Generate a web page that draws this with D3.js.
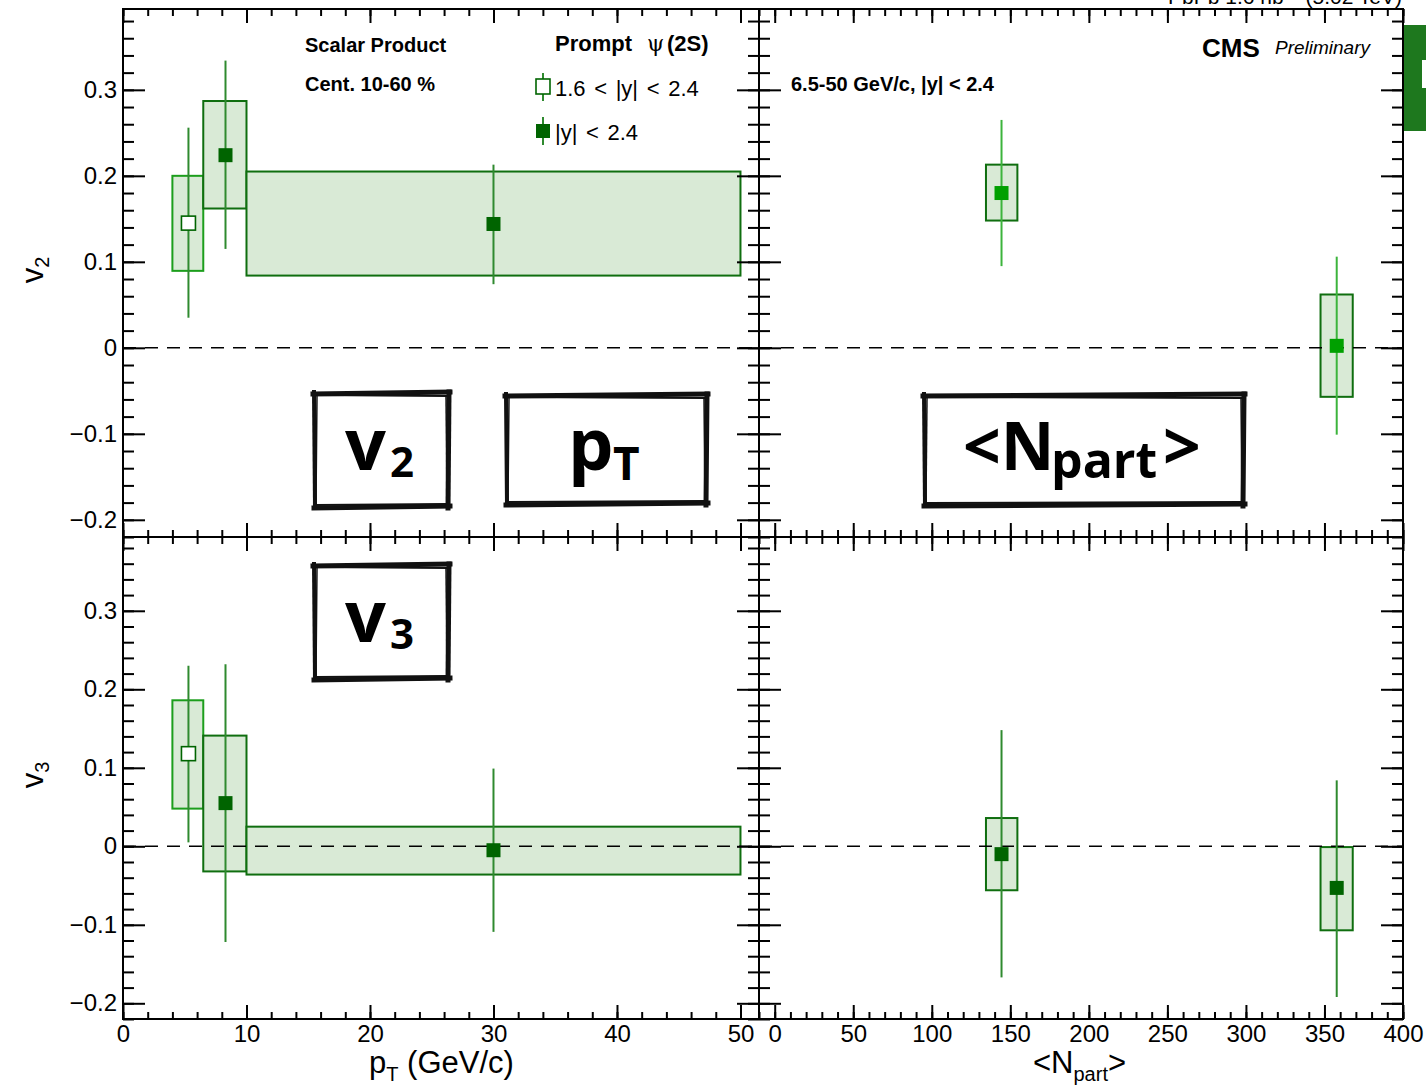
<!DOCTYPE html>
<html><head><meta charset="utf-8">
<script src="https://cdn.jsdelivr.net/npm/d3@7"></script>
<style>
body{margin:0;background:#fff}
svg{display:block}
text{font-family:"Liberation Sans",Arial,Helvetica,sans-serif}
.hand{font-family:"Open Sans","Noto Sans",sans-serif;font-weight:700}
</style>
</head><body>
<svg id="c" width="1426" height="1087"></svg>
<script>
// ---------------- DATA ----------------
// pT dependence (Cent. 10-60 %). First point: 1.6<|y|<2.4 (open), others |y|<2.4 (filled)
const ptCenters   = [5.3, 8.3, 30.0];
const ptBinLo     = [4.0, 6.5, 10.0];
const ptBinHi     = [6.5, 10.0, 50.0];
const ptOpen      = [true, false, false];
const v2Pt        = [0.145, 0.224, 0.144];
const v2PtStatLo  = [0.035, 0.115, 0.074];
const v2PtStatHi  = [0.256, 0.334, 0.213];
const v2PtSysLo   = [0.0895, 0.162, 0.084];
const v2PtSysHi   = [0.200, 0.287, 0.205];
const v3Pt        = [0.118, 0.055, -0.005];
const v3PtStatLo  = [0.005, -0.122, -0.109];
const v3PtStatHi  = [0.230, 0.232, 0.099];
const v3PtSysLo   = [0.048, -0.032, -0.036];
const v3PtSysHi   = [0.186, 0.141, 0.025];

// <Npart> dependence (6.5-50 GeV/c, |y|<2.4)
const npartCenters   = [144.4, 357.8];
const npartBoxLo     = [134.5, 347.5];
const npartBoxHi     = [154.5, 368.0];
const v2Npart        = [0.180, 0.0023];
const v2NpartStatLo  = [0.095, -0.101];
const v2NpartStatHi  = [0.265, 0.106];
const v2NpartSysLo   = [0.148, -0.057];
const v2NpartSysHi   = [0.213, 0.062];
const v3Npart        = [-0.010, -0.053];
const v3NpartStatLo  = [-0.167, -0.192];
const v3NpartStatHi  = [0.148, 0.084];
const v3NpartSysLo   = [-0.056, -0.107];
const v3NpartSysHi   = [0.036, -0.001];

// ticks
const yMajor     = [-0.2, -0.1, 0, 0.1, 0.2, 0.3];
const ptMajor    = [0, 10, 20, 30, 40, 50];
const npartMajor = [0, 50, 100, 150, 200, 250, 300, 350, 400];
const yDomain    = [-0.22, 0.394];
const ptDomain   = [0, 51.5];
const npartDomain= [-10, 400];

// ---------------- DRAW ----------------
const svg = d3.select("#c");
const C = {
  boxFill: "#d9ead6", boxStroke: "#0f6e0f", boxStrokeOpen: "#1c9e1c",
  err: "#2f8a2f", mark: "#006400", markBright: "#00a000", errBright: "#3cb43c"
};

const layout = {
  TL: {left:123, right:759, top:9,   bottom:537},
  TR: {left:759, right:1403, top:9,  bottom:537},
  BL: {left:123, right:759, top:537, bottom:1019},
  BR: {left:759, right:1403, top:537,bottom:1019}
};

function range(a, b, s){ return d3.range(Math.round(a/s), Math.round(b/s)+1).map(i => +(i*s).toFixed(6)); }
const yMinor = range(-0.22, 0.38, 0.02);
const ptMinor = range(0, 50, 2);
const npMinor = range(-10, 400, 10);

function yFmt(d){ return d === 0 ? "0" : d3.format(".1f")(d); }

function makePanel(L, xDomain){
  const x = d3.scaleLinear().domain(xDomain).range([L.left, L.right]);
  const y = d3.scaleLinear().domain(yDomain).range([L.bottom, L.top]);
  return {x, y, L};
}

function drawAxes(P, xMaj, xMin, labelX, labelY){
  const {x, y, L} = P;
  const g = svg.append("g");
  const style = s => { s.select(".domain").remove();
    s.selectAll("line").attr("stroke","#000").attr("stroke-width",2);
    s.selectAll("text").attr("font-size",24).attr("fill","#000")
      .attr("font-family",'"Liberation Sans",Arial,sans-serif'); };
  // bottom
  g.append("g").attr("transform",`translate(0,${L.bottom})`)
    .call(d3.axisBottom(x).tickValues(xMaj).tickSize(-14).tickPadding(6)
      .tickFormat(labelX ? d3.format("d") : ""))
    .call(style);
  g.append("g").attr("transform",`translate(0,${L.bottom})`)
    .call(d3.axisBottom(x).tickValues(xMin).tickSize(-7).tickFormat("")).call(style);
  // top
  g.append("g").attr("transform",`translate(0,${L.top})`)
    .call(d3.axisTop(x).tickValues(xMaj).tickSize(-14).tickFormat("")).call(style);
  g.append("g").attr("transform",`translate(0,${L.top})`)
    .call(d3.axisTop(x).tickValues(xMin).tickSize(-7).tickFormat("")).call(style);
  // left
  g.append("g").attr("transform",`translate(${L.left},0)`)
    .call(d3.axisLeft(y).tickValues(yMajor).tickSize(-22).tickPadding(6)
      .tickFormat(labelY ? yFmt : "")).call(style);
  g.append("g").attr("transform",`translate(${L.left},0)`)
    .call(d3.axisLeft(y).tickValues(yMinor).tickSize(-11).tickFormat("")).call(style);
  // right
  g.append("g").attr("transform",`translate(${L.right},0)`)
    .call(d3.axisRight(y).tickValues(yMajor).tickSize(-22).tickFormat("")).call(style);
  g.append("g").attr("transform",`translate(${L.right},0)`)
    .call(d3.axisRight(y).tickValues(yMinor).tickSize(-11).tickFormat("")).call(style);
  // frame
  g.append("rect").attr("x",L.left).attr("y",L.top)
    .attr("width",L.right-L.left).attr("height",L.bottom-L.top)
    .attr("fill","none").attr("stroke","#000").attr("stroke-width",2);
}

function drawData(P, xs, bLo, bHi, v, sLo, sHi, eLo, eHi, opts){
  const {x, y, L} = P;
  const g = svg.append("g");
  const idx = d3.range(xs.length);
  g.selectAll("rect.sys").data(idx).join("rect")
    .attr("x", i => x(bLo[i])).attr("width", i => x(bHi[i]) - x(bLo[i]))
    .attr("y", i => y(sHi[i])).attr("height", i => y(sLo[i]) - y(sHi[i]))
    .attr("fill", C.boxFill)
    .attr("stroke", i => (opts.open && opts.open[i]) ? C.boxStrokeOpen : C.boxStroke)
    .attr("stroke-width", 2);
  // zero line
  g.append("line").attr("x1", L.left).attr("x2", L.right)
    .attr("y1", y(0)).attr("y2", y(0))
    .attr("stroke","#000").attr("stroke-width",1.6).attr("stroke-dasharray","13,9");
  g.selectAll("line.err").data(idx).join("line")
    .attr("x1", i => x(xs[i])).attr("x2", i => x(xs[i]))
    .attr("y1", i => y(eLo[i])).attr("y2", i => y(eHi[i]))
    .attr("stroke", opts.err).attr("stroke-width", 2);
  g.selectAll("rect.mk").data(idx).join("rect")
    .attr("x", i => x(xs[i]) - 7).attr("y", i => y(v[i]) - 7)
    .attr("width", 14).attr("height", 14)
    .attr("fill", i => (opts.open && opts.open[i]) ? "#fff" : opts.mark)
    .attr("stroke", i => (opts.open && opts.open[i]) ? C.mark : "none")
    .attr("stroke-width", 1.6);
}

const TL = makePanel(layout.TL, ptDomain);
const TR = makePanel(layout.TR, npartDomain);
const BL = makePanel(layout.BL, ptDomain);
const BR = makePanel(layout.BR, npartDomain);

drawData(TL, ptCenters, ptBinLo, ptBinHi, v2Pt, v2PtSysLo, v2PtSysHi, v2PtStatLo, v2PtStatHi,
  {open: ptOpen, err: C.err, mark: C.mark});
drawData(BL, ptCenters, ptBinLo, ptBinHi, v3Pt, v3PtSysLo, v3PtSysHi, v3PtStatLo, v3PtStatHi,
  {open: ptOpen, err: C.err, mark: C.mark});
drawData(TR, npartCenters, npartBoxLo, npartBoxHi, v2Npart, v2NpartSysLo, v2NpartSysHi, v2NpartStatLo, v2NpartStatHi,
  {err: C.errBright, mark: C.markBright});
drawData(BR, npartCenters, npartBoxLo, npartBoxHi, v3Npart, v3NpartSysLo, v3NpartSysHi, v3NpartStatLo, v3NpartStatHi,
  {err: C.err, mark: C.mark});

drawAxes(TL, ptMajor, ptMinor, false, true);
drawAxes(TR, npartMajor, npMinor, false, false);
drawAxes(BL, ptMajor, ptMinor, true, true);
drawAxes(BR, npartMajor, npMinor, true, false);

// ---------------- TEXT ----------------
function txt(x, y, s, size, opt={}){
  return svg.append("text").attr("x",x).attr("y",y).attr("font-size",size)
    .attr("font-weight",opt.bold?"bold":"normal").attr("font-style",opt.italic?"italic":"normal")
    .attr("text-anchor",opt.anchor||"start").attr("fill","#000").text(s);
}
txt(305, 52, "Scalar Product", 20, {bold:true});
txt(305, 91, "Cent. 10-60 %", 20, {bold:true});
const pr = txt(555, 51, "Prompt", 22, {bold:true});
pr.append("tspan").attr("x",647).attr("font-weight","normal").attr("font-family",'"DejaVu Serif",serif').text("ψ");
pr.append("tspan").attr("x",667).text("(2S)");
txt(555, 96, "1.6 < |y| < 2.4", 22).attr("word-spacing", 2.5);
txt(555, 140, "|y| < 2.4", 22).attr("word-spacing", 2.5);
// legend markers
svg.append("line").attr("x1",543).attr("x2",543).attr("y1",73).attr("y2",101).attr("stroke",C.err).attr("stroke-width",2);
svg.append("rect").attr("x",536).attr("y",79).attr("width",14).attr("height",15).attr("fill","#fff").attr("stroke",C.mark).attr("stroke-width",1.6);
svg.append("line").attr("x1",543).attr("x2",543).attr("y1",117).attr("y2",145).attr("stroke",C.err).attr("stroke-width",2);
svg.append("rect").attr("x",536).attr("y",124).attr("width",14).attr("height",14).attr("fill",C.mark);

txt(791, 91, "6.5-50 GeV/c, |y| < 2.4", 20, {bold:true});
txt(1202, 57, "CMS", 26, {bold:true});
txt(1275, 54, "Preliminary", 19, {italic:true});

// header at very top (cut off by the top edge in the reference as well)
const hd = txt(1402, 4, "PbPb 1.6 nb", 21, {anchor:"end"});
hd.append("tspan").attr("font-size",14).attr("dy",-8).text("−1");
hd.append("tspan").attr("dy",8).text(" (5.02 TeV)");

// green clipped logo at right edge
svg.append("rect").attr("x",1404).attr("y",25).attr("width",22).attr("height",106).attr("fill","#1e781e");
svg.append("rect").attr("x",1422).attr("y",60).attr("width",4).attr("height",28).attr("fill","#fff");

// axis titles
const yt2 = svg.append("text").attr("transform","translate(43,270) rotate(-90)")
  .attr("text-anchor","middle").attr("font-size",31).text("v");
yt2.append("tspan").attr("font-size",20).attr("dy",6).text("2");
const yt3 = svg.append("text").attr("transform","translate(43,775) rotate(-90)")
  .attr("text-anchor","middle").attr("font-size",31).text("v");
yt3.append("tspan").attr("font-size",20).attr("dy",6).text("3");

const xt1 = txt(369, 1073, "p", 31);
xt1.append("tspan").attr("font-size",20).attr("dy",8).text("T");
xt1.append("tspan").attr("dy",-8).text(" (GeV/c)");
const xt2 = txt(1033, 1073, "<N", 31);
xt2.append("tspan").attr("font-size",20).attr("dy",8).text("part");
xt2.append("tspan").attr("dy",-8).text(">");

// ---------------- HAND-DRAWN LABEL BOXES ----------------
function handBox(x0, y0, x1, y1){
  const g = svg.append("g");
  g.append("rect").attr("x",x0).attr("y",y0).attr("width",x1-x0).attr("height",y1-y0)
    .attr("fill","#fff").attr("stroke","none");
  const segs = [
    [[x0-1,y0+1],[x1+1,y0-1],5],[[x0+2,y0+2],[x1-3,y0+3],2],
    [[x0,y1+1],[x1+1,y1-1],5],[[x0+3,y1-2],[x1-2,y1-3],2],
    [[x0,y0-1],[x0+1,y1+1],4],[[x0+3,y0+3],[x0+2,y1-3],1.5],
    [[x1,y0-1],[x1-1,y1+1],5],[[x1-3,y0+3],[x1-2,y1-3],1.5]
  ];
  segs.forEach(s => g.append("line").attr("x1",s[0][0]).attr("y1",s[0][1])
    .attr("x2",s[1][0]).attr("y2",s[1][1]).attr("stroke","#111")
    .attr("stroke-width",s[2]).attr("stroke-linecap","square"));
  return g;
}
handBox(314, 393, 449, 507);
handBox(506, 395, 707, 504);
handBox(924, 395, 1244, 505);
handBox(314, 565, 449, 679);

function hand(x, y, s, size){
  return svg.append("text").attr("class","hand").attr("x",x).attr("y",y)
    .attr("font-size",size).attr("fill","#000").text(s);
}
hand(345, 470, "v", 72); hand(390, 477, "2", 42);
hand(568, 470, "p", 72); hand(613, 480, "T", 46);
hand(963, 470, "<N", 66); hand(1051, 478, "part", 50); hand(1163, 470, ">", 66);
hand(345, 642, "v", 72); hand(390, 649, "3", 42);
</script>
</body></html>
